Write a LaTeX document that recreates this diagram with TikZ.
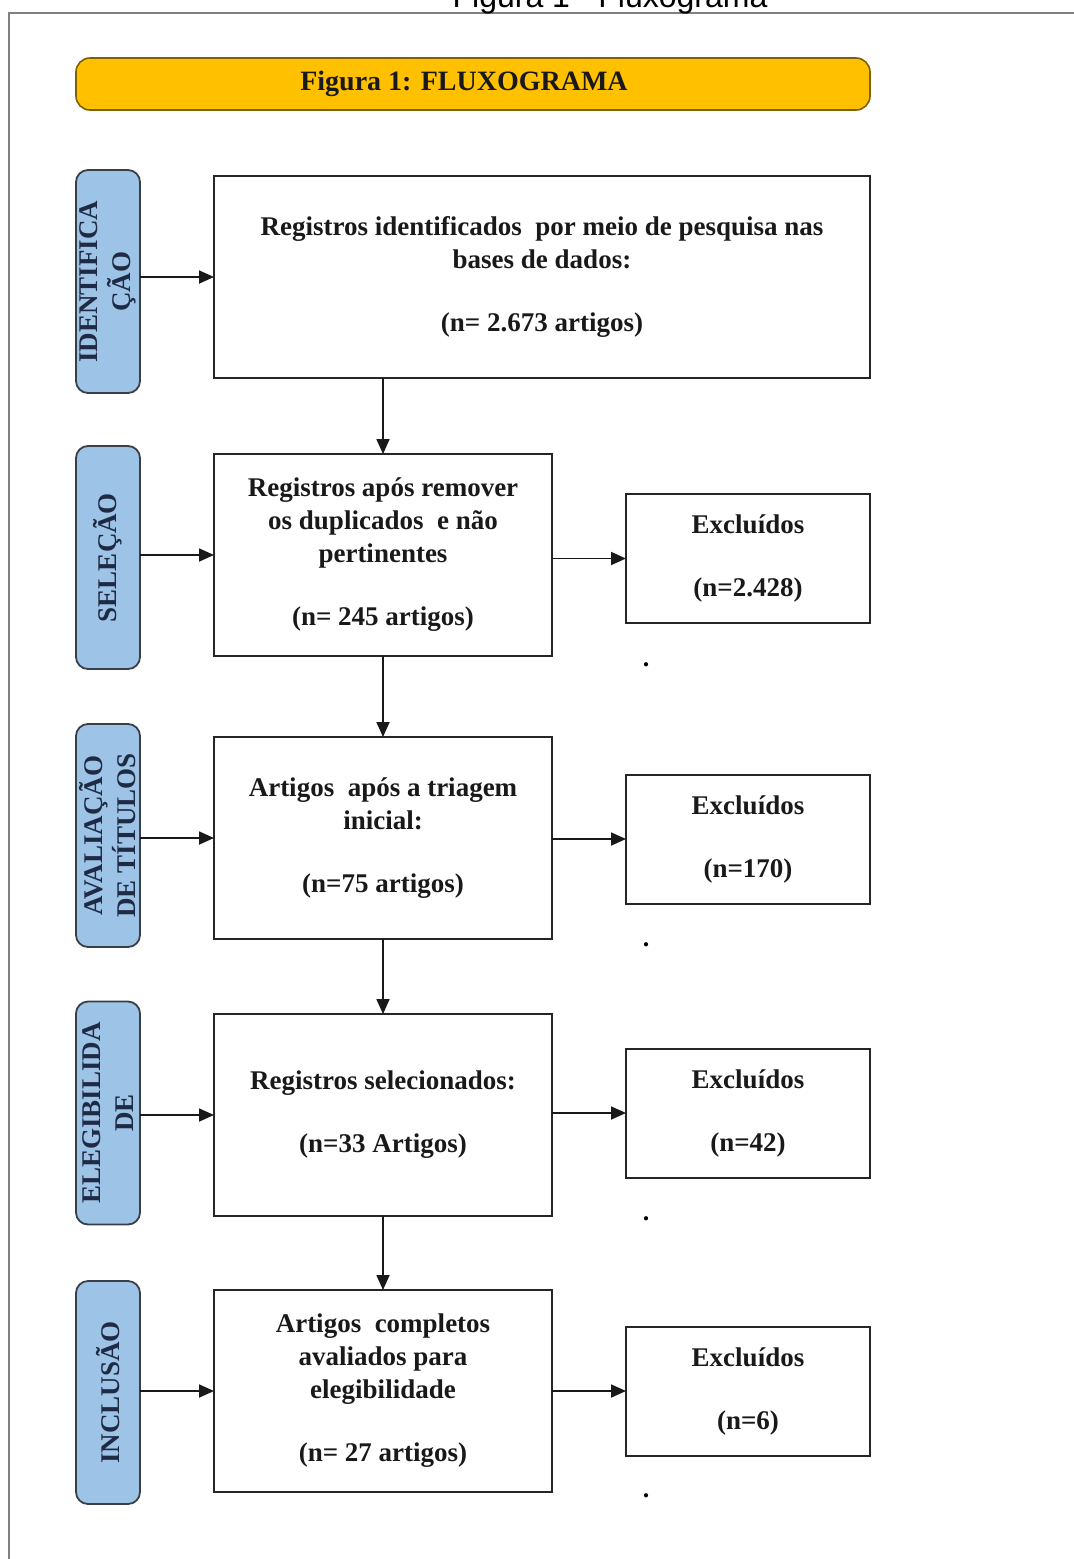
\documentclass[tikz,border=0pt]{standalone}
\usepackage{fontspec}
\setmainfont{Liberation Serif}
\newfontfamily\titlesans{Liberation Sans}
\usetikzlibrary{arrows.meta}
\definecolor{bannerfill}{HTML}{FFC000}
\definecolor{bannerdraw}{HTML}{7F6000}
\definecolor{sidefill}{HTML}{9DC3E6}
\definecolor{sidedraw}{HTML}{3A3F47}
\definecolor{sidetext}{HTML}{1F2A44}
\definecolor{framegray}{HTML}{808080}
\tikzset{
  boxfont/.style={font=\fontsize{13.5}{16.5}\selectfont\bfseries},
  mainbox/.style={draw=black!85, line width=1pt, boxfont, align=center, inner sep=0pt, outer sep=0pt, text=black!90},
  sidebox/.style={draw=sidedraw, fill=sidefill, line width=0.9pt, rounded corners=6pt, inner sep=0pt, outer sep=0pt,
    minimum width=111.5pt, minimum height=32pt, rotate=90, align=center, text=sidetext, font=\fontsize{13.5}{16.5}\selectfont\bfseries},
  banner/.style={draw=bannerdraw, fill=bannerfill, line width=0.8pt, rounded corners=7pt, inner sep=0pt,
    minimum width=397pt, minimum height=26pt, font=\fontsize{14}{16}\selectfont\bfseries, text=black!90},
  arr/.style={-{Triangle[length=7.5pt,width=6.5pt]}, line width=0.9pt, draw=black!90},
  dotlabel/.style={font=\fontsize{13}{16}\selectfont\bfseries, inner sep=0pt, anchor=base}
}
\begin{document}
\begin{tikzpicture}[x=0.5pt, y=-0.5pt]
\useasboundingbox (0,0) rectangle (1073,1559);
% outer frame
\draw[framegray, line width=1pt] (9,1570) -- (9,13) -- (1085,13);
% page title (cut at the top edge, as in the reference)
\node[font=\titlesans\fontsize{16}{19}\selectfont, anchor=base, inner sep=0pt] (ttl) at (610,7) {Figura 1 - Fluxograma};
% banner
\node[banner] (ban) at (473,84) {\hspace*{-9pt}Figura 1: FLUXOGRAMA};
% side labels
\node[sidebox] (s1) at (108,281.5) {IDENTIFICA\\ÇÃO};
\node[sidebox] (s2) at (108,557.5) {SELEÇÃO};
\node[sidebox] (s3) at (108,835.5) {AVALIAÇÃO\\DE TÍTULOS};
\node[sidebox] (s4) at (108,1113) {ELEGIBILIDA\\DE};
\node[sidebox] (s5) at (108,1392.5) {INCLUSÃO};
% main boxes
\node[mainbox, minimum width=328pt, minimum height=101pt] (b1) at (542,277)
  {Registros identificados\ \ por meio de pesquisa nas\\bases de dados:\\[15pt](n= 2.673 artigos)};
\node[mainbox, minimum width=169pt, minimum height=101pt] (b2) at (383,555)
  {Registros após remover\\os duplicados\ \ e não\\pertinentes\\[15pt](n= 245 artigos)};
\node[mainbox, minimum width=169pt, minimum height=101pt] (b3) at (383,838)
  {Artigos\ \ após a triagem\\inicial:\\[15pt](n=75 artigos)};
\node[mainbox, minimum width=169pt, minimum height=101pt] (b4) at (383,1115)
  {Registros selecionados:\\[15pt](n=33 Artigos)};
\node[mainbox, minimum width=169pt, minimum height=101pt] (b5) at (383,1391)
  {Artigos\ \ completos\\avaliados para\\elegibilidade\\[15pt](n= 27 artigos)};
% excluded boxes
\node[mainbox, minimum width=122pt, minimum height=64.5pt] (e1) at (748,558.5) {Excluídos\\[15pt](n=2.428)};
\node[mainbox, minimum width=122pt, minimum height=64.5pt] (e2) at (748,839) {Excluídos\\[15pt](n=170)};
\node[mainbox, minimum width=122pt, minimum height=64.5pt] (e3) at (748,1113) {Excluídos\\[15pt](n=42)};
\node[mainbox, minimum width=122pt, minimum height=64.5pt] (e4) at (748,1391) {Excluídos\\[15pt](n=6)};
% dots
\node[dotlabel] (d1) at (646,666) {.};
\node[dotlabel] (d2) at (646,946) {.};
\node[dotlabel] (d3) at (646,1220) {.};
\node[dotlabel] (d4) at (646,1497) {.};
% side arrows
\draw[arr] (s1.south |- b1.west) -- (b1.west);
\draw[arr] (s2.south |- b2.west) -- (b2.west);
\draw[arr] (s3.south |- b3.west) -- (b3.west);
\draw[arr] (s4.south |- b4.west) -- (b4.west);
\draw[arr] (s5.south |- b5.west) -- (b5.west);
% vertical arrows
\draw[arr] (b1.south -| b2.north) -- (b2.north);
\draw[arr] (b2.south) -- (b3.north);
\draw[arr] (b3.south) -- (b4.north);
\draw[arr] (b4.south) -- (b5.north);
% excluded arrows
\draw[arr] (b2.east |- e1.west) -- (e1.west);
\draw[arr] (b3.east |- e2.west) -- (e2.west);
\draw[arr] (b4.east |- e3.west) -- (e3.west);
\draw[arr] (b5.east |- e4.west) -- (e4.west);
\end{tikzpicture}
\end{document}
